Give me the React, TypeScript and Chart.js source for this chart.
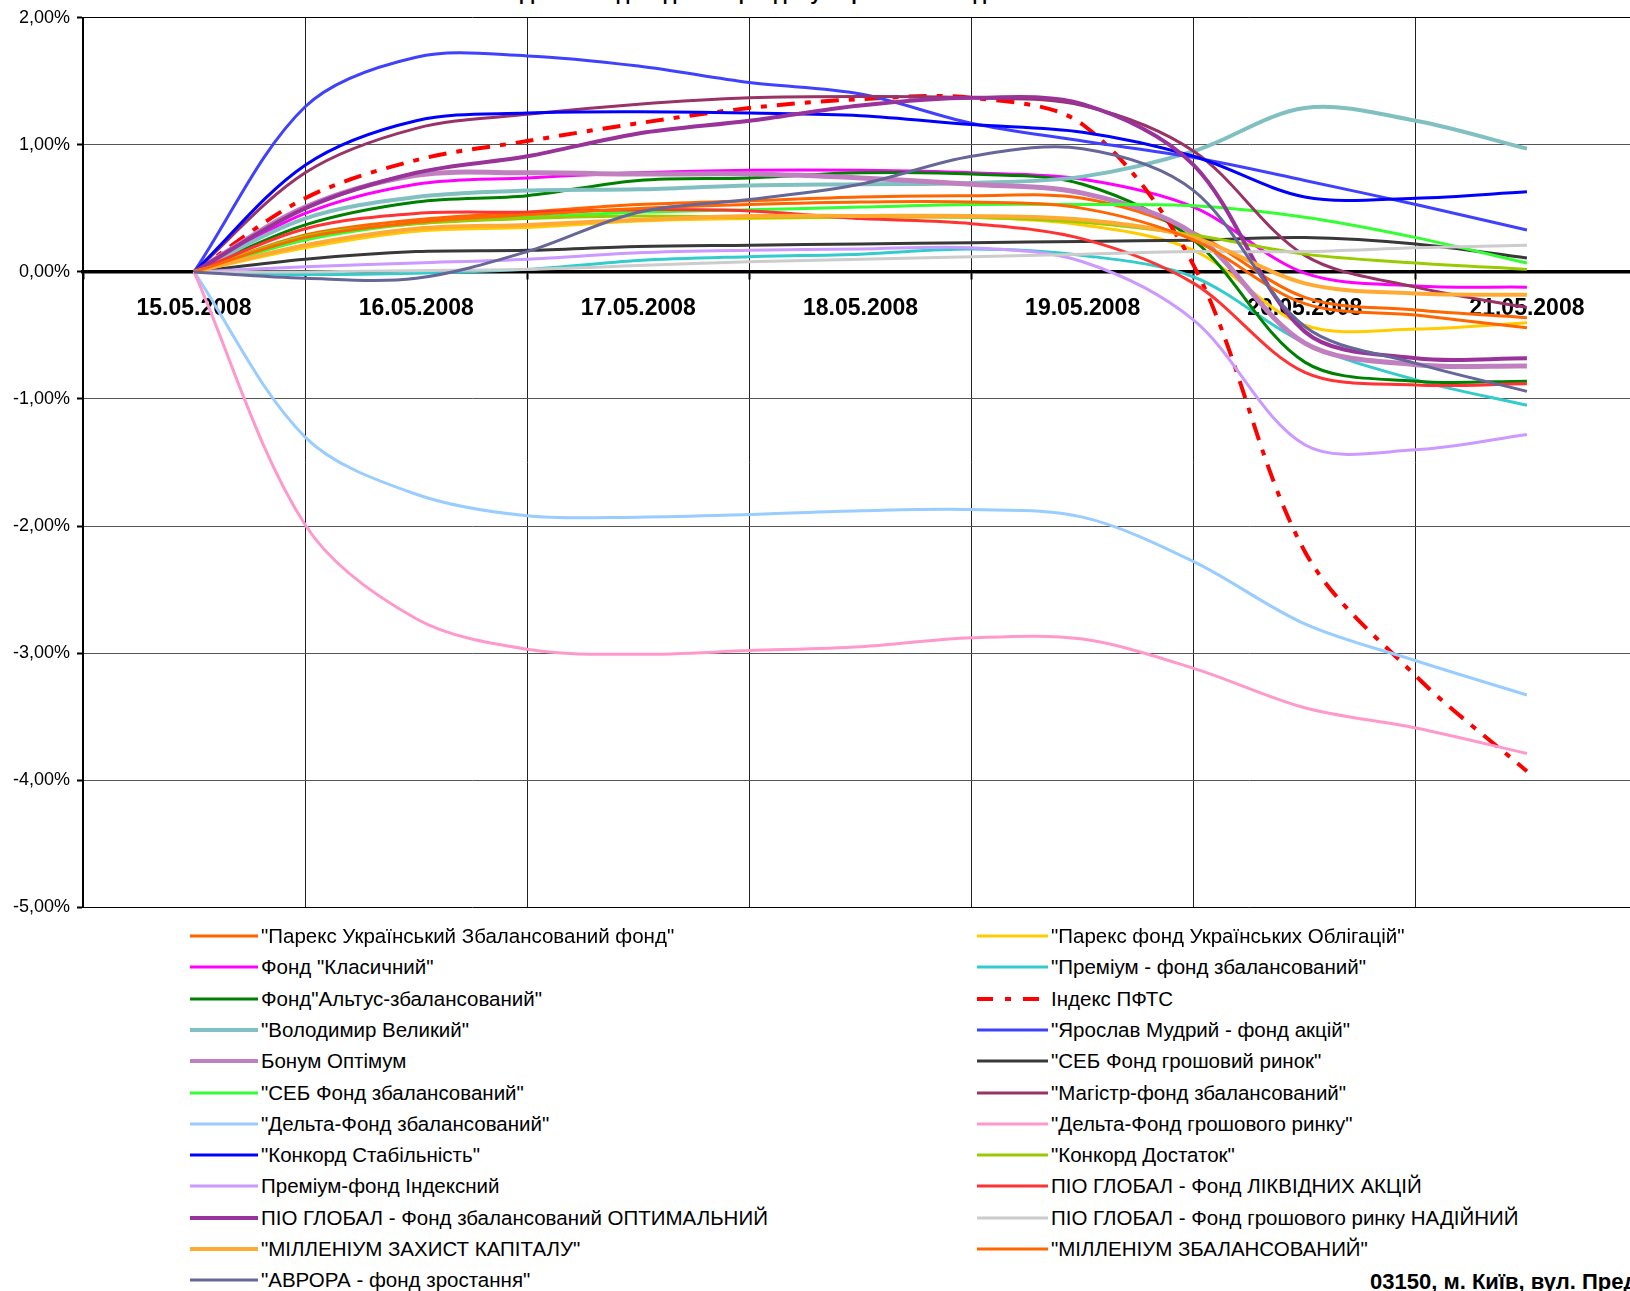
import { useEffect, useRef } from 'react'
import { Chart, registerables, ChartConfiguration } from 'chart.js'

Chart.register(...registerables)
Chart.defaults.font.family = '"Liberation Sans", Arial, sans-serif'

const dayLabels = ['15.05.2008', '16.05.2008', '17.05.2008', '18.05.2008', '19.05.2008', '20.05.2008', '21.05.2008']

// values are read every half day, starting from the middle of the first day
const pointPositions = dayLabels.flatMap((_, i) => (i < dayLabels.length - 1 ? [i + 0.5, i + 1] : [i + 0.5]))

const fundNames = [
  '"Парекс Український Збалансований фонд"',
  '"Парекс фонд Українських Облігацій"',
  'Фонд "Класичний"',
  '"Преміум - фонд збалансований"',
  'Фонд"Альтус-збалансований"',
  'Індекс ПФТС',
  '"Володимир Великий"',
  '"Ярослав Мудрий - фонд акцій"',
  'Бонум Оптімум',
  '"СЕБ Фонд грошовий ринок"',
  '"СЕБ Фонд збалансований"',
  '"Магістр-фонд збалансований"',
  '"Дельта-Фонд збалансований"',
  '"Дельта-Фонд грошового ринку"',
  '"Конкорд Стабільність"',
  '"Конкорд Достаток"',
  'Преміум-фонд Індексний',
  'ПІО ГЛОБАЛ - Фонд ЛІКВІДНИХ АКЦІЙ',
  'ПІО ГЛОБАЛ - Фонд збалансований ОПТИМАЛЬНИЙ',
  'ПІО ГЛОБАЛ - Фонд грошового ринку НАДІЙНИЙ',
  '"МІЛЛЕНІУМ ЗАХИСТ КАПІТАЛУ"',
  '"МІЛЛЕНІУМ ЗБАЛАНСОВАНИЙ"',
  '"АВРОРА - фонд зростання"',
]

// % change since 15.05.2008
const parexBalanced = [0, 0.29, 0.41, 0.47, 0.53, 0.56, 0.59, 0.6, 0.58, 0.31, -0.2, -0.3, -0.36]
const parexBonds = [0, 0.19, 0.32, 0.35, 0.4, 0.42, 0.43, 0.43, 0.37, 0.17, -0.42, -0.45, -0.4]
const classic = [0, 0.46, 0.69, 0.74, 0.78, 0.8, 0.8, 0.78, 0.73, 0.51, -0.01, -0.11, -0.12]
const premiumBalanced = [0, -0.02, -0.01, 0.02, 0.09, 0.12, 0.14, 0.18, 0.13, -0.04, -0.56, -0.85, -1.05]
const altus = [0, 0.37, 0.55, 0.6, 0.72, 0.74, 0.78, 0.77, 0.69, 0.25, -0.71, -0.86, -0.86]
const pftsIndex = [0, 0.58, 0.88, 1.03, 1.17, 1.29, 1.36, 1.37, 1.16, 0.05, -2.2, -3.18, -3.93]
const volodymyr = [0, 0.42, 0.59, 0.64, 0.65, 0.68, 0.69, 0.7, 0.75, 0.95, 1.29, 1.19, 0.97]
const yaroslav = [0, 1.3, 1.69, 1.7, 1.62, 1.49, 1.4, 1.17, 1.03, 0.9, 0.72, 0.53, 0.33]
const bonum = [0, 0.51, 0.76, 0.78, 0.77, 0.77, 0.74, 0.69, 0.62, 0.3, -0.56, -0.73, -0.74]
const sebMoney = [0, 0.1, 0.16, 0.17, 0.2, 0.21, 0.22, 0.23, 0.24, 0.25, 0.27, 0.22, 0.11]
const sebBalanced = [0, 0.25, 0.38, 0.43, 0.47, 0.49, 0.51, 0.53, 0.53, 0.52, 0.43, 0.27, 0.07]
const magistr = [0, 0.78, 1.13, 1.24, 1.32, 1.37, 1.38, 1.37, 1.31, 0.95, 0.13, -0.12, -0.28]
const deltaBalanced = [0, -1.3, -1.75, -1.92, -1.93, -1.91, -1.88, -1.87, -1.93, -2.28, -2.77, -3.06, -3.33]
const deltaMoney = [0, -1.99, -2.73, -2.97, -3.01, -2.98, -2.95, -2.88, -2.89, -3.12, -3.43, -3.59, -3.79]
const konkordStability = [0, 0.84, 1.19, 1.25, 1.26, 1.25, 1.23, 1.16, 1.1, 0.91, 0.59, 0.58, 0.63]
const konkordSufficiency = [0, 0.28, 0.38, 0.42, 0.44, 0.43, 0.43, 0.43, 0.39, 0.29, 0.14, 0.07, 0.02]
const premiumIndex = [0, 0.04, 0.07, 0.1, 0.15, 0.17, 0.18, 0.19, 0.08, -0.38, -1.36, -1.4, -1.28]
const pioLiquid = [0, 0.34, 0.46, 0.47, 0.49, 0.48, 0.42, 0.38, 0.26, -0.09, -0.79, -0.89, -0.88]
const pioOptimal = [0, 0.5, 0.78, 0.91, 1.09, 1.19, 1.31, 1.37, 1.32, 0.84, -0.47, -0.68, -0.68]
const pioReliable = [0, 0.0, 0.01, 0.02, 0.05, 0.08, 0.1, 0.12, 0.14, 0.16, 0.16, 0.19, 0.21]
const milleniumProtect = [0, 0.21, 0.34, 0.37, 0.41, 0.44, 0.44, 0.44, 0.41, 0.27, -0.09, -0.17, -0.18]
const milleniumBalanced = [0, 0.27, 0.39, 0.45, 0.5, 0.53, 0.55, 0.55, 0.5, 0.25, -0.25, -0.34, -0.44]
const avrora = [0, -0.05, -0.05, 0.16, 0.47, 0.57, 0.69, 0.91, 0.97, 0.64, -0.43, -0.72, -0.94]

const fundValues = [
  parexBalanced, parexBonds, classic, premiumBalanced, altus, pftsIndex, volodymyr, yaroslav,
  bonum, sebMoney, sebBalanced, magistr, deltaBalanced, deltaMoney, konkordStability,
  konkordSufficiency, premiumIndex, pioLiquid, pioOptimal, pioReliable, milleniumProtect,
  milleniumBalanced, avrora,
]

type LineStyle = { color: string; width: number; dash?: number[] }

const lineStyles: LineStyle[] = [
  { color: '#FF6600', width: 3 },
  { color: '#FFCC00', width: 3 },
  { color: '#FF00FF', width: 3 },
  { color: '#33CCCC', width: 3 },
  { color: '#008000', width: 3 },
  { color: '#FF0000', width: 4, dash: [18, 10, 6, 10] },
  { color: '#80C0C0', width: 4 },
  { color: '#4040FF', width: 3 },
  { color: '#C080C0', width: 5 },
  { color: '#383838', width: 3 },
  { color: '#33FF33', width: 3 },
  { color: '#993366', width: 3 },
  { color: '#99CCFF', width: 3 },
  { color: '#FF99CC', width: 3 },
  { color: '#0000FF', width: 3 },
  { color: '#99CC00', width: 3 },
  { color: '#CC99FF', width: 3 },
  { color: '#FF3333', width: 3 },
  { color: '#993399', width: 4 },
  { color: '#CCCCCC', width: 3 },
  { color: '#FFAA33', width: 4 },
  { color: '#FF6600', width: 3 },
  { color: '#666699', width: 3 },
]

const xTickValues = [
  ...dayLabels.map((_, i) => i),
  dayLabels.length,
  ...dayLabels.map((_, i) => i + 0.5),
].sort((a, b) => a - b)

function LegendItem({ index }: { index: number }) {
  const style = lineStyles[index]
  const col = index % 2
  const row = Math.floor(index / 2)
  const sampleWidth = col === 0 ? 68 : 71
  return (
    <div
      style={{
        position: 'absolute',
        left: col === 0 ? 190 : 977,
        top: 924 + row * 31.3,
        height: 24,
        display: 'flex',
        alignItems: 'center',
        whiteSpace: 'nowrap',
        fontSize: 20.5,
        color: '#000',
      }}
    >
      <svg width={sampleWidth} height={8} style={{ marginRight: 3 }}>
        <line
          x1={0}
          y1={4}
          x2={sampleWidth}
          y2={4}
          stroke={style.color}
          strokeWidth={Math.min(style.width, 4)}
          strokeDasharray={style.dash ? '16 12 6 12' : undefined}
        />
      </svg>
      <span>{fundNames[index]}</span>
    </div>
  )
}

export default function App() {
  const chartRef = useRef<HTMLCanvasElement>(null)
  const chartInstance = useRef<Chart | null>(null)

  useEffect(() => {
    if (!chartRef.current) return

    const datasets = fundNames.map((name, i) => ({
      label: name,
      data: fundValues[i].map((v, k) => ({ x: pointPositions[k], y: v })),
      borderColor: lineStyles[i].color,
      backgroundColor: lineStyles[i].color,
      borderWidth: lineStyles[i].width,
      borderDash: lineStyles[i].dash ?? [],
      pointRadius: 0,
      tension: 0.33,
      fill: false,
      // first series at the bottom, like the spreadsheet draws them
      order: fundNames.length - i,
    }))

    const chartConfig: ChartConfiguration<'line'> = {
      type: 'line',
      data: { datasets },
      options: {
        responsive: false,
        animation: false,
        layout: { padding: { top: 16, right: 62, bottom: 14, left: 0 } },
        plugins: {
          legend: { display: false },
          title: { display: false },
          tooltip: { enabled: false },
        },
        scales: {
          x: {
            type: 'linear',
            min: 0,
            max: dayLabels.length,
            position: { y: 0 },
            afterBuildTicks: (scale) => {
              scale.ticks = xTickValues.map((value) => ({ value }))
            },
            ticks: {
              autoSkip: false,
              maxRotation: 0,
              minRotation: 0,
              padding: 17,
              color: '#000',
              font: { size: 23, weight: 'bold' },
              callback: (value) => {
                const v = Number(value)
                return Number.isInteger(v) ? '' : dayLabels[Math.floor(v)]
              },
            },
            grid: {
              color: (ctx) => (Number.isInteger(ctx.tick?.value) ? '#222' : 'rgba(0,0,0,0)'),
              tickColor: (ctx) => (Number.isInteger(ctx.tick?.value) ? '#000' : 'rgba(0,0,0,0)'),
              lineWidth: 1,
              tickLength: 6,
              tickWidth: 2,
            },
            border: { color: '#000', width: 3.5 },
          },
          y: {
            min: -5,
            max: 2,
            afterFit: (scale) => {
              scale.width = 83
            },
            ticks: {
              stepSize: 1,
              padding: 7,
              color: '#000',
              font: { size: 18 },
              callback: (value) => Number(value).toFixed(2).replace('.', ',') + '%',
            },
            grid: {
              color: (ctx) => (ctx.tick?.value === 2 || ctx.tick?.value === -5 ? '#000' : '#555'),
              lineWidth: 1,
              tickLength: 6,
              tickColor: '#000',
              tickWidth: 2,
            },
            border: { color: '#000', width: 2 },
          },
        },
      },
    }

    chartInstance.current = new Chart(chartRef.current, chartConfig)

    return () => {
      if (chartInstance.current) {
        chartInstance.current.destroy()
        chartInstance.current = null
      }
    }
  }, [])

  return (
    <div
      style={{
        position: 'fixed',
        left: 0,
        top: 0,
        width: 1630,
        height: 1291,
        overflow: 'hidden',
        background: '#fff',
        fontFamily: '"Liberation Sans", Arial, sans-serif',
      }}
    >
      <div
        style={{
          position: 'absolute',
          left: 520,
          top: -19,
          fontSize: 20,
          lineHeight: '24px',
          fontWeight: 'bold',
          whiteSpace: 'nowrap',
        }}
      >
        Динаміка доходності фондів у порівнянні з індексом ПФТС
      </div>
      <canvas ref={chartRef} width={1700} height={925} style={{ position: 'absolute', left: 0, top: 0 }} />
      {fundNames.map((_, i) => (
        <LegendItem key={i} index={i} />
      ))}
      <div
        style={{
          position: 'absolute',
          left: 1370,
          top: 1269,
          fontSize: 22,
          fontWeight: 'bold',
          whiteSpace: 'nowrap',
        }}
      >
        03150, м. Київ, вул. Предславинська
      </div>
    </div>
  )
}
